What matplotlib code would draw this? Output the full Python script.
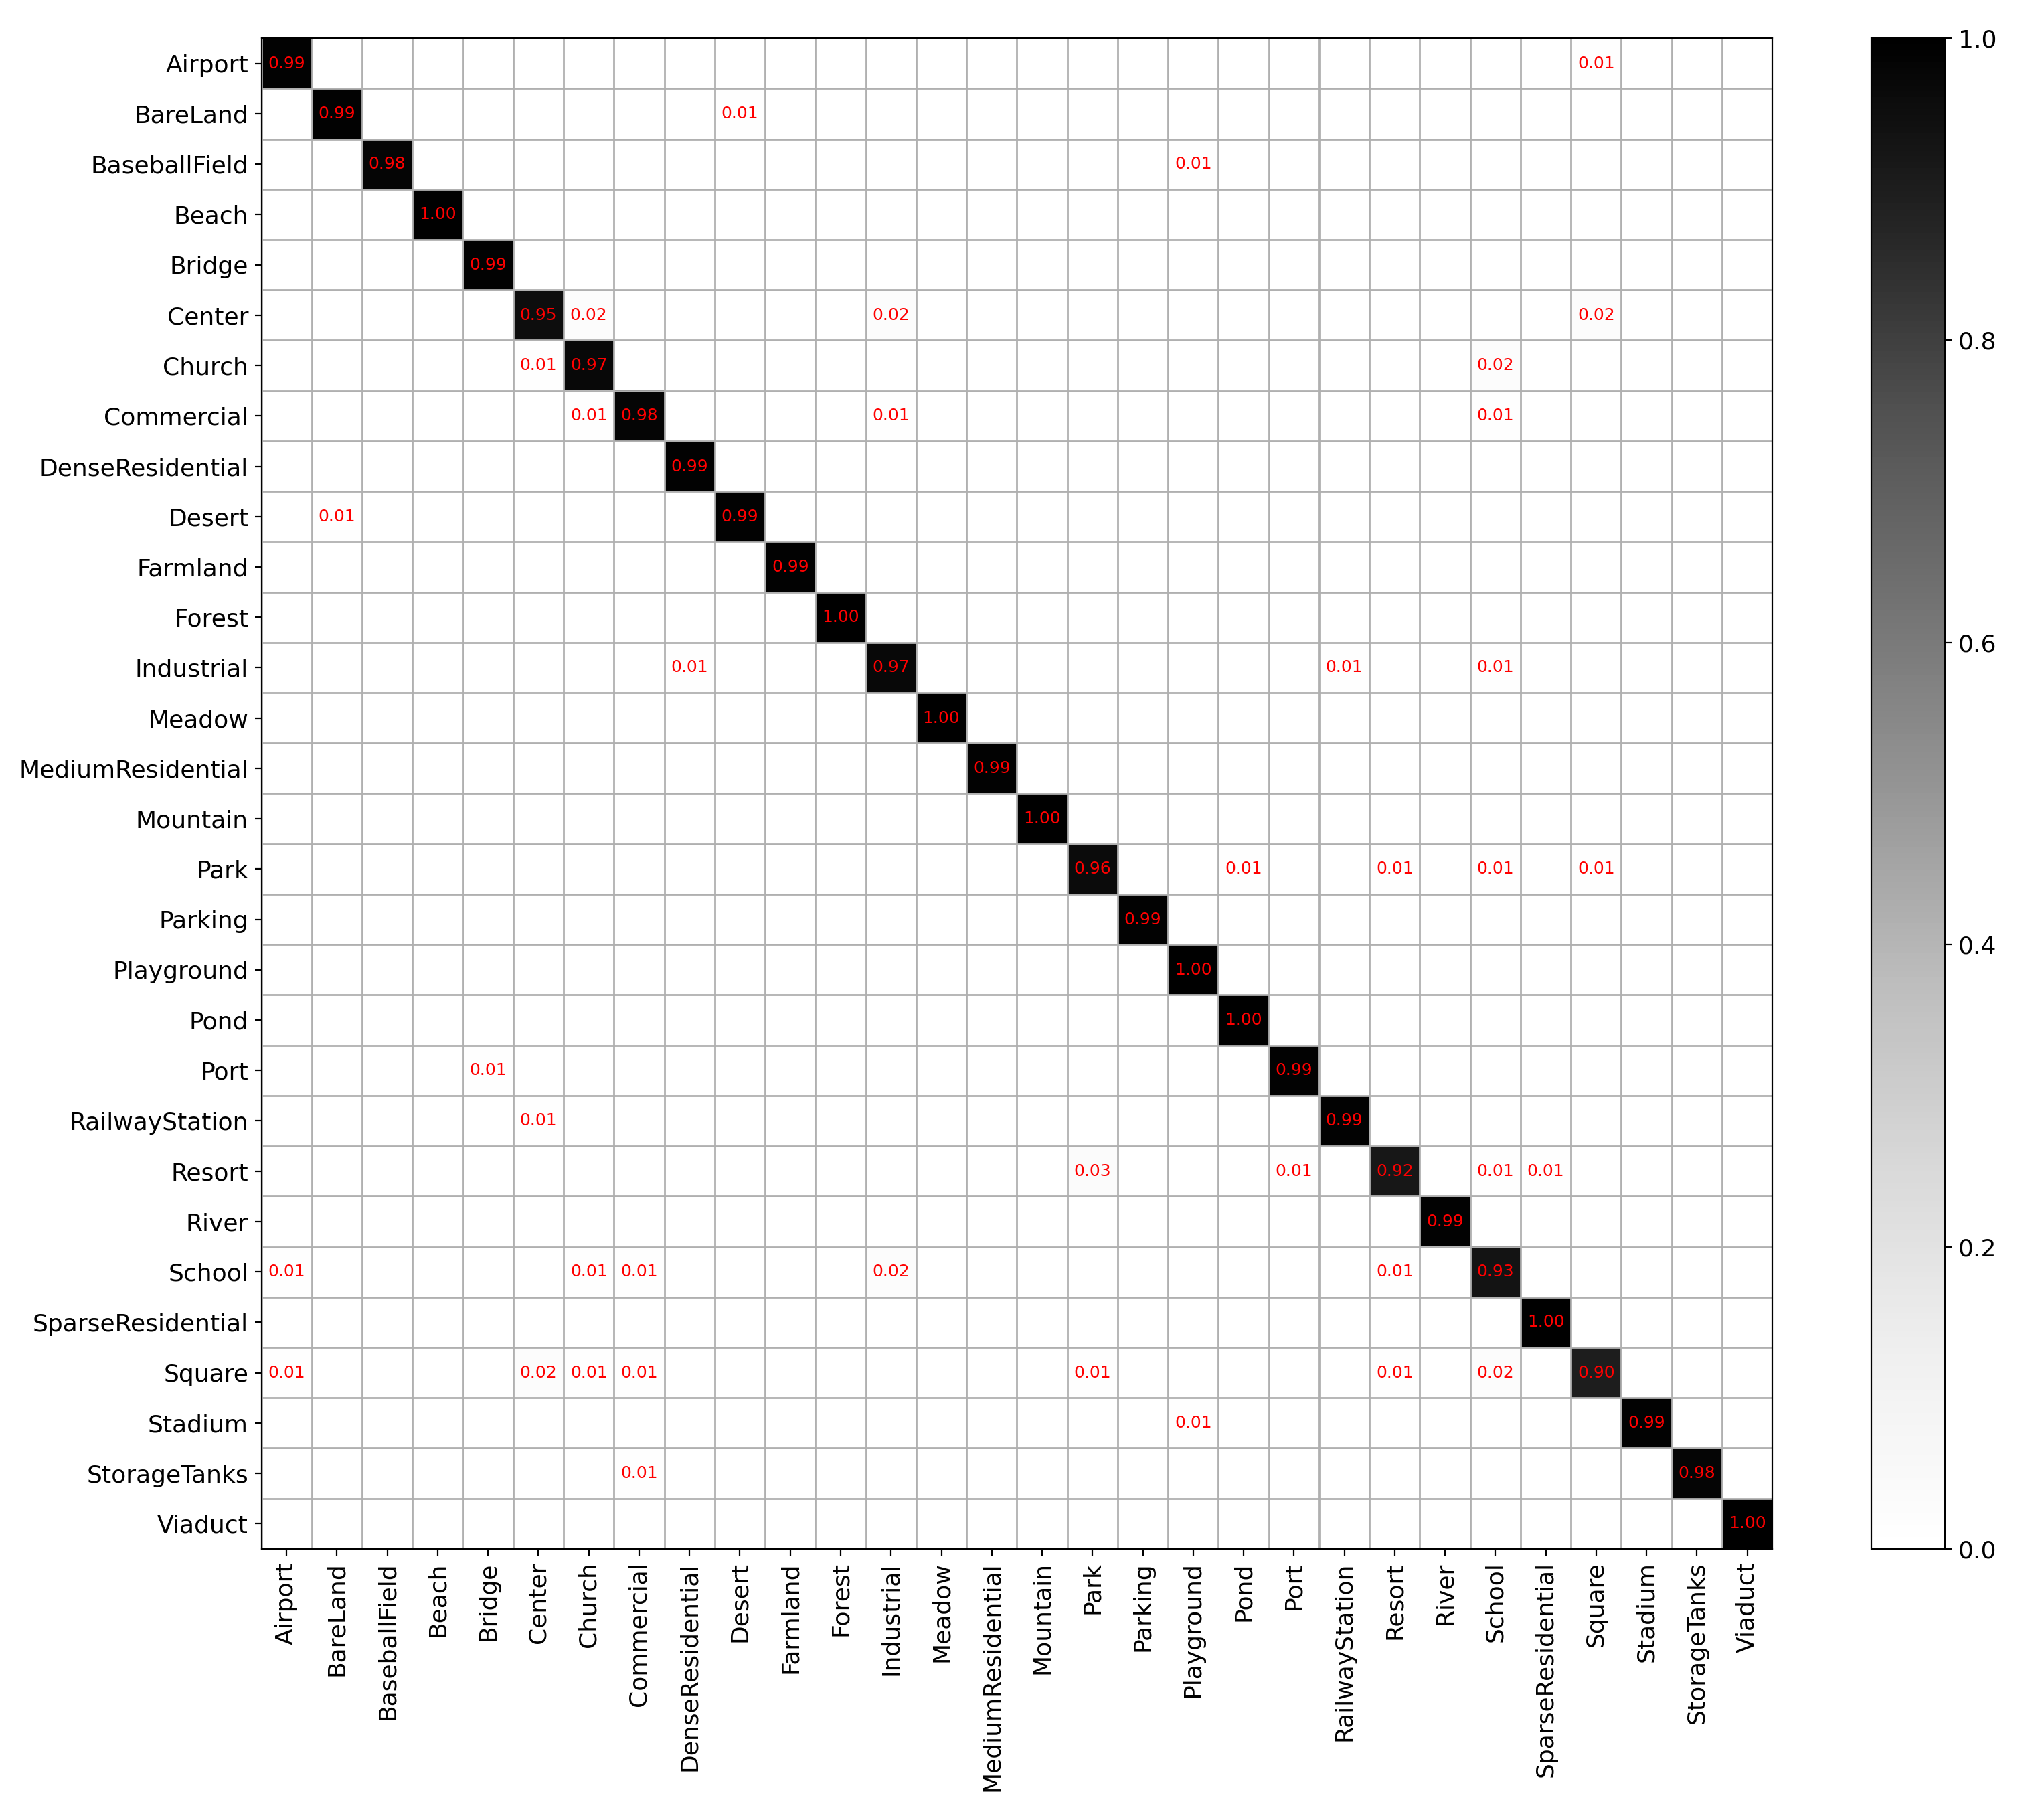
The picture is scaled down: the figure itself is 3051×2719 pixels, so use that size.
import numpy as np
import matplotlib
matplotlib.use("Agg")
import matplotlib.pyplot as plt

classes = ["Airport","BareLand","BaseballField","Beach","Bridge","Center","Church","Commercial",
           "DenseResidential","Desert","Farmland","Forest","Industrial","Meadow","MediumResidential",
           "Mountain","Park","Parking","Playground","Pond","Port","RailwayStation","Resort","River",
           "School","SparseResidential","Square","Stadium","StorageTanks","Viaduct"]

diag = [0.99,0.99,0.98,1.00,0.99,0.95,0.97,0.98,0.99,0.99,0.99,1.00,0.97,1.00,0.99,
        1.00,0.96,0.99,1.00,1.00,0.99,0.99,0.92,0.99,0.93,1.00,0.90,0.99,0.98,1.00]

off_rows = ["Airport","BareLand","BaseballField","Center","Center","Center","Church","Church",
            "Commercial","Commercial","Commercial","Desert","Industrial","Industrial","Industrial",
            "Park","Park","Park","Park","Port","RailwayStation","Resort","Resort","Resort","Resort",
            "School","School","School","School","School","Square","Square","Square","Square","Square",
            "Square","Square","Stadium","StorageTanks"]
off_cols = ["Square","Desert","Playground","Church","Industrial","Square","Center","School",
            "Church","Industrial","School","BareLand","DenseResidential","RailwayStation","School",
            "Pond","Resort","School","Square","Bridge","Center","Park","Port","School","SparseResidential",
            "Airport","Church","Commercial","Industrial","Resort","Airport","Center","Church","Commercial","Park",
            "Resort","School","Playground","Commercial"]
off_vals = [0.01,0.01,0.01,0.02,0.02,0.02,0.01,0.02,
            0.01,0.01,0.01,0.01,0.01,0.01,0.01,
            0.01,0.01,0.01,0.01,0.01,0.01,0.03,0.01,0.01,0.01,
            0.01,0.01,0.01,0.02,0.01,0.01,0.02,0.01,0.01,0.01,
            0.01,0.02,0.01,0.01]

n = len(classes)
idx = {c: i for i, c in enumerate(classes)}
M = np.zeros((n, n))
for i, v in enumerate(diag):
    M[i, i] = v
for r, c, v in zip(off_rows, off_cols, off_vals):
    M[idx[r], idx[c]] = v

fig = plt.figure(figsize=(15.255, 13.595), dpi=200)
ax = fig.add_axes([0.128, 0.149, 0.740, 0.830])
cax = fig.add_axes([0.9165, 0.149, 0.036, 0.830])
im = ax.imshow(M, cmap="Greys", vmin=0, vmax=1, aspect="auto", interpolation="nearest")
ax.set_xticks(range(n))
ax.set_yticks(range(n))
ax.set_xticklabels(classes, rotation=90, fontsize=13)
ax.set_yticklabels(classes, fontsize=13)
ax.set_xticks(np.arange(-0.5, n, 1), minor=True)
ax.set_yticks(np.arange(-0.5, n, 1), minor=True)
ax.grid(which="minor", color="#b0b0b0", linewidth=1)
ax.tick_params(which="minor", length=0)
for i in range(n):
    for j in range(n):
        if M[i, j] > 0:
            ax.text(j, i, f"{M[i, j]:.2f}", ha="center", va="center", color="red", fontsize=9)
cb = fig.colorbar(im, cax=cax)
cb.ax.tick_params(labelsize=13)
fig.savefig("out.png", dpi=200)
